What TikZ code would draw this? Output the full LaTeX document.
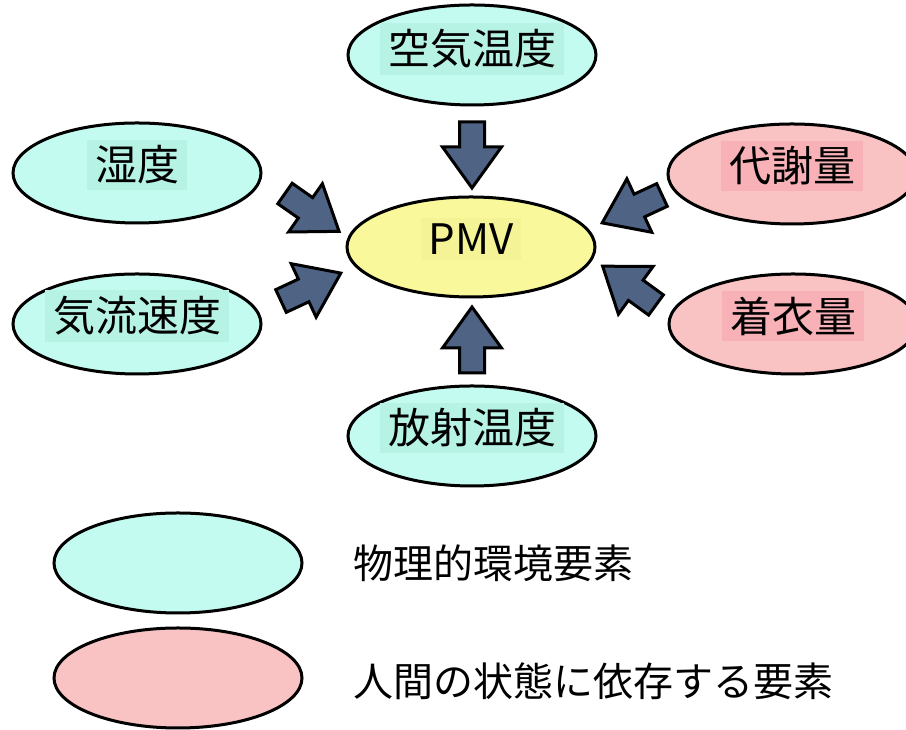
\documentclass[tikz,border=0pt]{standalone}
\usepackage{fontspec}
\newfontfamily\cjk{Noto Sans CJK JP}
\usetikzlibrary{shapes.geometric}
\definecolor{cyanF}{HTML}{C4FBF0}
\definecolor{cyanT}{HTML}{B6F3E5}
\definecolor{pinkF}{HTML}{F9C3C3}
\definecolor{pinkT}{HTML}{F7B1B7}
\definecolor{yelF}{HTML}{F9F99B}
\definecolor{yelT}{HTML}{F4F497}
\definecolor{arrF}{HTML}{4F6385}
\tikzset{
  ell/.style={ellipse, draw=black, line width=3pt, fill=#1, minimum width=248pt, minimum height=100pt, inner sep=0pt},
  lbl/.style={fill=#1, font=\cjk\fontsize{42}{50}\selectfont, inner xsep=8pt, inner ysep=6pt, text=black},
  legtext/.style={font=\cjk\fontsize{40}{48}\selectfont, anchor=west, inner sep=0pt, text=black},
  blockarrow/.pic={\draw[line width=3pt, line join=miter, fill=arrF] (0,12.5) -- (25,12.5) -- (25,29.5) -- (66,0) -- (25,-29.5) -- (25,-12.5) -- (0,-12.5) -- cycle;}
}
\begin{document}
\begin{tikzpicture}[x=1pt,y=1pt]
\useasboundingbox (0,0) rectangle (906,730);
% ellipses
\node[ell=cyanF] (air)  at (472,675) {};
\node[ell=cyanF] (hum)  at (137,557) {};
\node[ell=cyanF] (flow) at (137,406) {};
\node[ell=yelF]  (pmv)  at (471,483) {};
\node[ell=pinkF] (met)  at (792,556) {};
\node[ell=pinkF] (wear) at (793,406) {};
\node[ell=cyanF] (rad)  at (472,294) {};
\node[ell=cyanF] (leg1) at (178,167) {};
\node[ell=pinkF] (leg2) at (178,52) {};
% labels
\node[lbl=cyanT] (airT)  at ([yshift=6]air.center)  {空気温度};
\node[lbl=cyanT] (humT)  at ([yshift=8]hum.center)  {湿度};
\node[lbl=cyanT] (flowT) at ([yshift=8]flow.center) {気流速度};
\node[lbl=yelT]  (pmvT)  at ([yshift=8]pmv.center)  {PMV};
\node[lbl=pinkT] (metT)  at ([yshift=8]met.center)  {代謝量};
\node[lbl=pinkT] (wearT) at ([yshift=8]wear.center) {着衣量};
\node[lbl=cyanT] (radT)  at ([yshift=8]rad.center)  {放射温度};
% legend text
\node[legtext] (leg1T) at (353,167) {物理的環境要素};
\node[legtext] (leg2T) at (353,49) {人間の状態に依存する要素};
% block arrows
\pic[rotate=-90] at (472,608) {blockarrow};
\pic[rotate=90] at (472,357) {blockarrow};
\pic[rotate=-35] at (285,536.5) {blockarrow};
\pic[rotate=25] at (281,429) {blockarrow};
\pic[rotate=205] at (662,535) {blockarrow};
\pic[rotate=144] at (656,425) {blockarrow};
\end{tikzpicture}
\end{document}
